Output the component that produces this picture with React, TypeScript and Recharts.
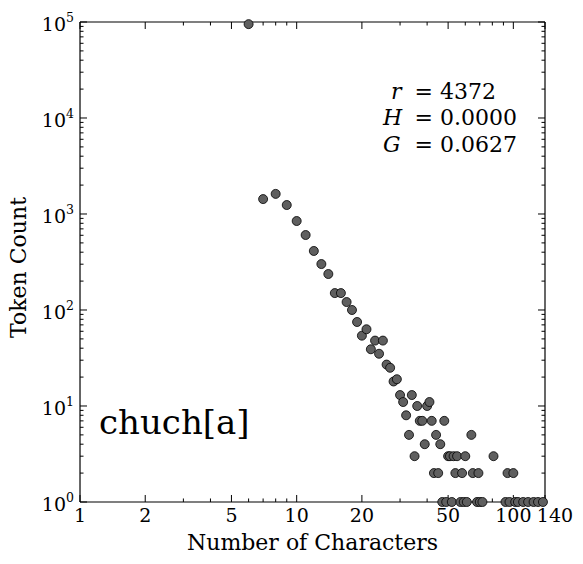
import { ScatterChart, Scatter, XAxis, YAxis } from 'recharts'

document.body.style.margin = '0'

const CHAR_COUNTS = [
  6, 7, 8, 9, 10, 11, 12, 13, 14, 15, 16, 17, 18, 19, 20, 21, 22, 23, 24, 25,
  26, 27, 28, 29, 30, 31, 32, 33, 34, 35, 36, 37, 38, 39, 40, 41, 42, 43, 44, 45,
  46, 47, 48, 49, 50, 51, 52, 53, 54, 55, 57, 58, 59, 60, 61, 64, 65, 68, 69, 70,
  72, 81, 92, 94, 96, 100, 102, 105, 111, 117, 124, 130, 137,
]
const TOKEN_COUNTS = [
  95000, 1430, 1620, 1240, 845, 604, 412, 301, 237, 150, 150, 121, 100, 75, 54, 63, 39, 48, 35, 48,
  27, 25, 18, 19, 13, 11, 8, 5, 13, 3, 10, 7, 7, 4, 10, 11, 7, 2, 5, 2,
  4, 1, 7, 1, 3, 3, 1, 3, 2, 3, 1, 2, 1, 3, 1, 5, 2, 1, 2, 1,
  1, 3, 1, 2, 1, 2, 1, 1, 1, 1, 1, 1, 1,
]

const X_MAJOR = [1, 2, 5, 10, 20, 50, 100, 140]
const X_MINOR = [3, 4, 6, 7, 8, 9, 30, 40, 60, 70, 80, 90]
const Y_MAJOR = [1, 10, 100, 1000, 10000, 100000]
const Y_MINOR = [1, 10, 100, 1000, 10000].flatMap((d) => [2, 3, 4, 5, 6, 7, 8, 9].map((k) => k * d))

const STATS = [
  { sym: 'r', val: '4372' },
  { sym: 'H', val: '0.0000' },
  { sym: 'G', val: '0.0627' },
]

const data = CHAR_COUNTS.map((n, i) => ({ n, c: TOKEN_COUNTS[i] }))

const FONT = 'DejaVu Serif'
const X_DOMAIN: [number, number] = [1, 140]
const Y_DOMAIN: [number, number] = [1, 100000]
// recharts skips axes with zero size, so use a hair-thin one
const THIN = 0.01

function XTick({ x, y, payload }: any) {
  const dx = payload.value === 140 ? 10 : 0
  return (
    <text x={x + dx} y={y} textAnchor="middle" fontFamily={FONT} fontSize={19} fill="#000">
      {payload.value}
    </text>
  )
}

function YTick({ x, y, payload }: any) {
  const exp = Math.round(Math.log10(payload.value))
  return (
    <text x={x} y={y + 8.7} textAnchor="end" fontFamily={FONT} fontSize={19} fill="#000">
      10<tspan dy={-9} fontSize={12.5}>{exp}</tspan>
    </text>
  )
}

// tick marks only, no label
const NoLabel = () => <g />

function Dot(p: any) {
  return <circle cx={p.cx} cy={p.cy} r={4.5} fill="#5f5f5f" stroke="#000" strokeWidth={0.8} />
}

const frame = { stroke: '#000', strokeWidth: 1.2 }
const tickLn = { stroke: '#000', strokeWidth: 1 }

const markX = { type: 'number' as const, dataKey: 'n', scale: 'log' as const, domain: X_DOMAIN, allowDataOverflow: true,
  mirror: true, height: THIN, tick: NoLabel, tickLine: tickLn, interval: 0 as const }
const markY = { type: 'number' as const, dataKey: 'c', scale: 'log' as const, domain: Y_DOMAIN, allowDataOverflow: true,
  mirror: true, width: THIN, tick: NoLabel, tickLine: tickLn, interval: 0 as const }

export default function App() {
  return (
    <div style={{ position: 'relative', width: 583, height: 564, background: '#fff' }}>
      <ScatterChart width={583} height={564} margin={{ top: 22, right: 38, bottom: 62, left: 80 }}>
        {/* inward tick marks on all four sides */}
        <XAxis {...markX} xAxisId="majB" orientation="bottom" ticks={X_MAJOR} tickSize={7} axisLine={frame} />
        <XAxis {...markX} xAxisId="minB" orientation="bottom" ticks={X_MINOR} tickSize={3.5} axisLine={false} />
        <XAxis {...markX} xAxisId="majT" orientation="top" ticks={X_MAJOR} tickSize={7} axisLine={frame} />
        <XAxis {...markX} xAxisId="minT" orientation="top" ticks={X_MINOR} tickSize={3.5} axisLine={false} />
        <YAxis {...markY} yAxisId="majL" orientation="left" ticks={Y_MAJOR} tickSize={7} axisLine={frame} />
        <YAxis {...markY} yAxisId="minL" orientation="left" ticks={Y_MINOR} tickSize={3.5} axisLine={false} />
        <YAxis {...markY} yAxisId="majR" orientation="right" ticks={Y_MAJOR} tickSize={7} axisLine={frame} />
        <YAxis {...markY} yAxisId="minR" orientation="right" ticks={Y_MINOR} tickSize={3.5} axisLine={false} />

        {/* labelled axes */}
        <XAxis type="number" dataKey="n" scale="log" domain={X_DOMAIN} ticks={X_MAJOR} height={THIN} interval={0}
          tickSize={0} tickMargin={20} axisLine={false} tickLine={false} tick={<XTick />} />
        <YAxis type="number" dataKey="c" scale="log" domain={Y_DOMAIN} ticks={Y_MAJOR} width={THIN} interval={0}
          tickSize={0} tickMargin={6} axisLine={false} tickLine={false} tick={<YTick />} />

        <Scatter data={data} shape={<Dot />} isAnimationActive={false} />
      </ScatterChart>

      <svg width={583} height={564} style={{ position: 'absolute', left: 0, top: 0, pointerEvents: 'none' }}>
        <g fontFamily={FONT} fill="#000">
          <text x={312.5} y={550} textAnchor="middle" fontSize={22}>Number of Characters</text>
          <text x={25.5} y={267.5} textAnchor="middle" fontSize={22} transform="rotate(-90 25.5 267.5)">
            Token Count
          </text>
          <text x={99} y={434} fontSize={34}>chuch[a]</text>
          {STATS.map((s, i) => (
            <g key={s.sym} fontSize={22}>
              <text x={i === 0 ? 391 : 383} y={98.5 + i * 26.8} fontStyle="italic">{s.sym}</text>
              <text x={i === 0 ? 496 : 517} y={98.5 + i * 26.8} textAnchor="end">= {s.val}</text>
            </g>
          ))}
        </g>
      </svg>
    </div>
  )
}
